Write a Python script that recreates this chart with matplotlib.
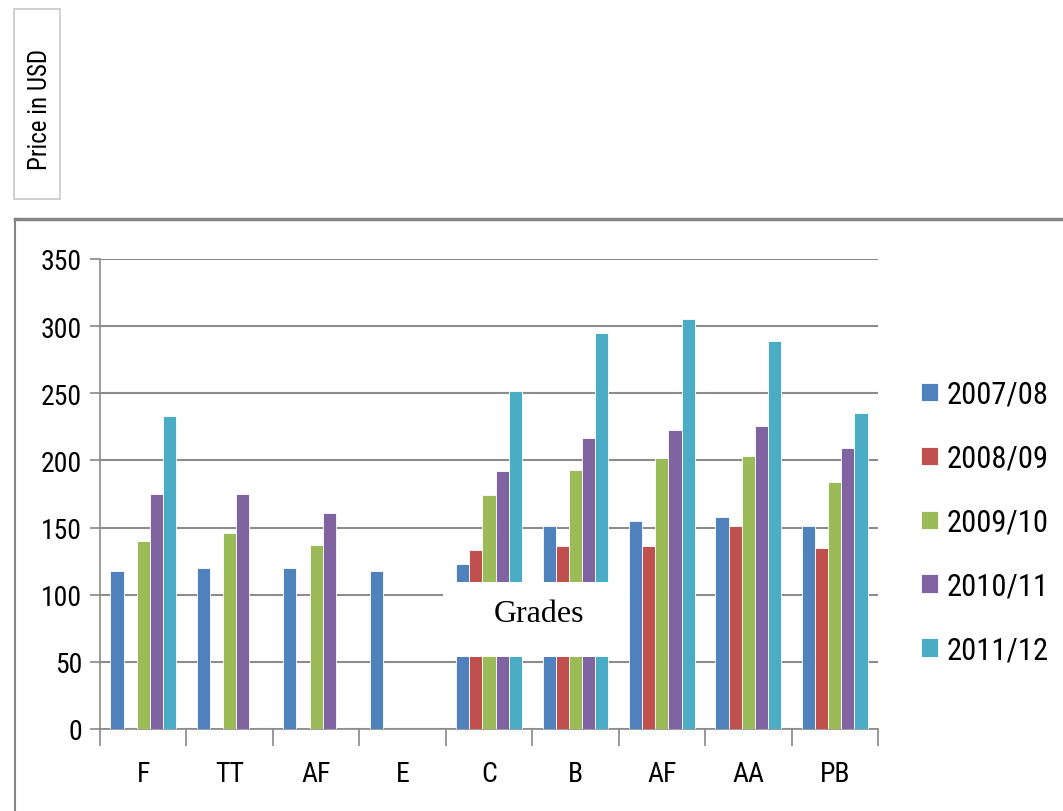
import matplotlib
matplotlib.use("Agg")
import matplotlib.pyplot as plt
import matplotlib.patches as mpatches
from matplotlib import font_manager
import numpy as np

grades = ["F", "TT", "AF", "E", "C", "B", "AF", "AA", "PB"]
seasons = ["2007/08", "2008/09", "2009/10", "2010/11", "2011/12"]
colors = ["#4F81BD", "#C0504D", "#9BBB59", "#8064A2", "#4BACC6"]

# price per grade for each season (nan = no price recorded)
p_0708 = [118, 120, 120, 118, 123, 151, 155, 158, 151]
p_0809 = [np.nan, np.nan, np.nan, np.nan, 133, 136, 136, 151, 135]
p_0910 = [140, 146, 137, np.nan, 174, 193, 202, 203, 184]
p_1011 = [175, 175, 161, np.nan, 192, 217, 223, 226, 209]
p_1112 = [233, np.nan, np.nan, np.nan, 252, 295, 305, 289, 235]
prices = [p_0708, p_0809, p_0910, p_1011, p_1112]

# prefer a narrow sans if one is around
installed = {f.name for f in font_manager.fontManager.ttflist}
sans = next((n for n in ["Roboto Condensed", "Liberation Sans Narrow", "Roboto"]
             if n in installed), "DejaVu Sans")
plt.rcParams["font.family"] = [sans, "DejaVu Sans"]

W, H = 1063, 812
fig = plt.figure(figsize=(W / 100, H / 100), dpi=100)

def fx(px):
    return px / W

def fy(py):
    return 1 - py / H

# outer chart frame
fig.add_artist(plt.Line2D([fx(15), fx(W)], [fy(220), fy(220)], color="#858585", lw=2.5))
fig.add_artist(plt.Line2D([fx(15), fx(15)], [fy(220), fy(H + 5)], color="#858585", lw=1.5))

# axis title box
fig.add_artist(mpatches.Rectangle((fx(14), fy(200)), fx(46), fy(10) - fy(200),
                                  facecolor="white", edgecolor="#c8c8c8", lw=1.2))
fig.text(fx(40), fy(109), "Price in USD", rotation=90, ha="center", va="center",
         fontsize=18)

ax = fig.add_axes([fx(100), fy(730), fx(778), fy(260) - fy(730)])

x = np.arange(len(grades))
bw = 0.152
for i, (vals, lab, c) in enumerate(zip(prices, seasons, colors)):
    ax.bar(x + (i - 2) * bw, vals, width=bw, color=c, edgecolor="white",
           linewidth=0.6, label=lab, zorder=3)

ax.set_xlim(-0.5, len(grades) - 0.5)
ax.set_ylim(0, 350)
ax.set_yticks(range(0, 351, 50))
ax.set_xticks(x)
ax.set_xticklabels(grades)
ax.set_xticks(np.arange(-0.5, len(grades), 1), minor=True)
ax.tick_params(axis="x", which="major", length=0, labelsize=20, pad=22)
ax.tick_params(axis="x", which="minor", length=12, color="#888888", width=1.2)
ax.tick_params(axis="y", length=7, color="#888888", width=1.2, labelsize=20, pad=6)
ax.grid(axis="y", color="#8c8c8c", lw=1.5, zorder=0)
for s in ["top", "right"]:
    ax.spines[s].set_visible(False)
for s in ["left", "bottom"]:
    ax.spines[s].set_color("#8c8c8c")
    ax.spines[s].set_linewidth(1.2)

leg = fig.legend(loc="upper left", bbox_to_anchor=(fx(921), fy(381)), frameon=False,
                 fontsize=22, handlelength=0.55, handleheight=0.55, handletextpad=0.3,
                 labelspacing=1.14, borderpad=0, borderaxespad=0)

# category label box drawn over the bars
fig.add_artist(mpatches.Rectangle((fx(443), fy(658)), fx(629 - 443), fy(583) - fy(658),
                                  facecolor="white", edgecolor="none", zorder=10))
fig.text(fx(539), fy(614), "Grades", ha="center", va="center", fontsize=23,
         family=["Liberation Serif", "DejaVu Serif"], zorder=11)

fig.savefig("out.png", dpi=100, facecolor="white")
